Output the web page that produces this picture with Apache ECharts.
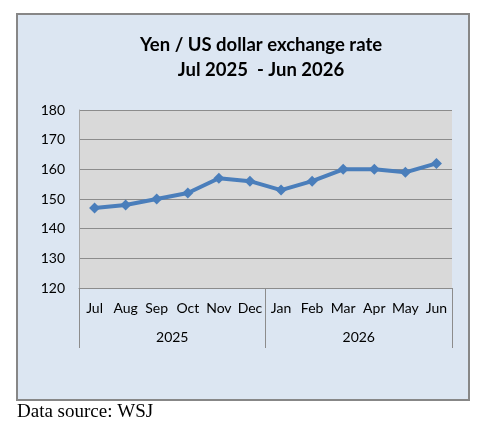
<!DOCTYPE html>
<html>
<head>
<meta charset="utf-8">
<script src="https://cdn.jsdelivr.net/npm/echarts@6/dist/echarts.min.js"></script>
<style>
  html, body { margin: 0; padding: 0; background: #fff; }
  #chart { width: 484px; height: 426px; }
</style>
</head>
<body>
<div id="chart"></div>
<script>
// chart values
const months = ['Jul', 'Aug', 'Sep', 'Oct', 'Nov', 'Dec', 'Jan', 'Feb', 'Mar', 'Apr', 'May', 'Jun'];
const years = ['2025', '2026'];
const rates = [147, 148, 150, 152, 157, 156, 153, 156, 160, 160, 159, 162];
const yMin = 120;
const yMax = 180;
const yStep = 10;
const titleLines = ['Yen / US dollar exchange rate', 'Jul 2025  - Jun 2026'];
const sourceNote = 'Data source: WSJ';

const chart = echarts.init(document.getElementById('chart'));

const labelFont = 'Lato, "Open Sans", sans-serif';
const axisGrey = '#8c8c8c';

chart.setOption({
  animation: false,
  graphic: [
    {
      // the light blue chart box
      type: 'rect',
      z: -10,
      shape: { x: 17, y: 14, width: 452, height: 386 },
      style: { fill: '#DCE6F2', stroke: '#878787', lineWidth: 2 }
    },
    {
      type: 'text',
      x: 261, y: 45,
      style: {
        text: titleLines[0],
        align: 'center', verticalAlign: 'middle',
        font: 'bold 18.5px ' + labelFont, fill: '#000'
      }
    },
    {
      type: 'text',
      x: 261, y: 70,
      style: {
        text: titleLines[1],
        align: 'center', verticalAlign: 'middle',
        font: 'bold 18.5px ' + labelFont, fill: '#000'
      }
    },
    {
      type: 'text',
      x: 17, y: 412,
      style: {
        text: sourceNote,
        align: 'left', verticalAlign: 'middle',
        font: '19px "Liberation Serif", "Times New Roman", serif', fill: '#000'
      }
    }
  ],
  grid: {
    left: 79, right: 32, top: 110, bottom: 138,
    show: true, backgroundColor: '#D9D9D9', borderWidth: 0
  },
  xAxis: [
    {
      type: 'category',
      data: months,
      position: 'bottom',
      axisLine: { lineStyle: { color: axisGrey, width: 1 } },
      axisTick: { show: false },
      axisLabel: { interval: 0, margin: 13, fontSize: 14, color: '#000', fontFamily: labelFont }
    },
    {
      // second row: years, with the long separators
      type: 'category',
      data: years,
      position: 'bottom',
      axisLine: { show: false },
      axisTick: { show: true, length: 60, lineStyle: { color: axisGrey } },
      axisLabel: { margin: 42, fontSize: 14, color: '#000', fontFamily: labelFont }
    }
  ],
  yAxis: {
    type: 'value',
    min: yMin, max: yMax, interval: yStep,
    axisLine: { show: true, lineStyle: { color: '#a6a6a6' } },
    axisTick: { show: false },
    splitLine: { lineStyle: { color: axisGrey, width: 1 } },
    axisLabel: { margin: 14, fontSize: 14, color: '#000', fontFamily: labelFont }
  },
  series: [{
    type: 'line',
    xAxisIndex: 0,
    data: rates,
    symbol: 'diamond',
    symbolSize: 11,
    lineStyle: { color: '#4A7EBB', width: 4 },
    itemStyle: { color: '#4A7EBB' }
  }]
});
</script>
</body>
</html>
